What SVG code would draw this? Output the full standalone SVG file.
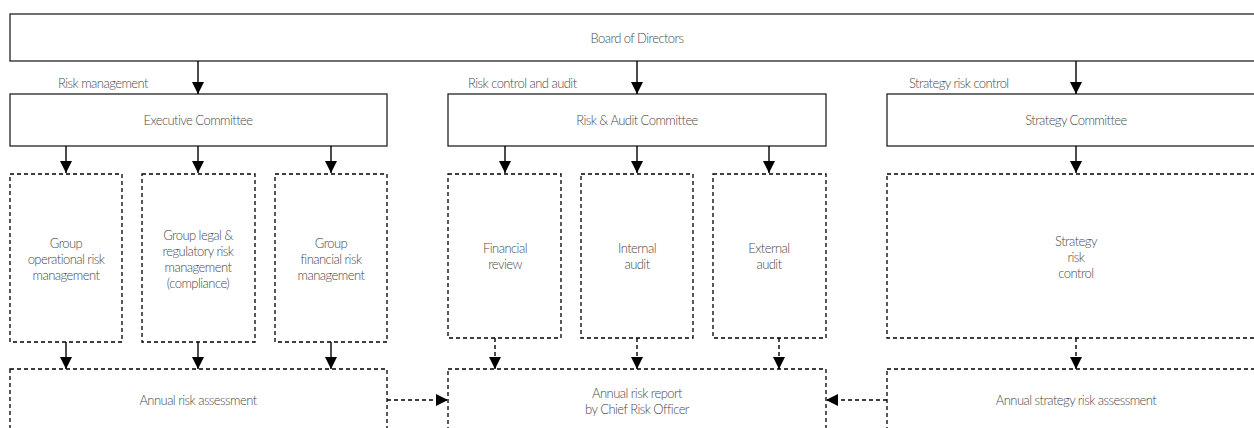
<svg xmlns="http://www.w3.org/2000/svg" width="1254" height="428" viewBox="0 0 1254 428">
<style>
text{font-family:Lato,"Open Sans","Liberation Sans",sans-serif;font-weight:300;font-size:13px;fill:#4a4a4a;letter-spacing:-0.55px}
.c{text-anchor:middle}
.solid{fill:#fff;stroke:#222;stroke-width:1.3}
.dash{fill:#fff;stroke:#000;stroke-width:1.3;stroke-dasharray:4,3}
.ln{fill:none;stroke:#000;stroke-width:1.4}
.dl{fill:none;stroke:#000;stroke-width:1.4;stroke-dasharray:4,3}
</style>
<defs>
<marker id="ah" viewBox="0 0 12 12" refX="12" refY="6" markerWidth="12" markerHeight="12" markerUnits="userSpaceOnUse" orient="auto">
<path d="M0,0 L12,6 L0,12 Z" fill="#000"/>
</marker>
</defs>
<g id="board"><rect class="solid" x="10" y="14" width="1255" height="47"/><text class="c" x="637" y="43">Board of Directors</text></g>
<g id="exec"><rect class="solid" x="10" y="94" width="377" height="52"/><text class="c" x="198" y="125">Executive Committee</text></g>
<g id="rac"><rect class="solid" x="448" y="94" width="378" height="52"/><text class="c" x="637" y="125">Risk &amp; Audit Committee</text></g>
<g id="sc"><rect class="solid" x="887" y="94" width="378" height="52"/><text class="c" x="1076" y="125">Strategy Committee</text></g>
<g id="labels">
<text x="58" y="88">Risk management</text>
<text x="468" y="88">Risk control and audit</text>
<text x="909" y="88">Strategy risk control</text>
</g>
<g id="opr"><rect class="dash" x="10" y="174" width="112" height="168"/><text class="c" x="66" y="248">Group</text><text class="c" x="66" y="264">operational risk</text><text class="c" x="66" y="280">management</text></g>
<g id="legal"><rect class="dash" x="142" y="174" width="113" height="168"/><text class="c" x="198" y="240">Group legal &amp;</text><text class="c" x="198" y="256">regulatory risk</text><text class="c" x="198" y="272">management</text><text class="c" x="198" y="288">(compliance)</text></g>
<g id="fin"><rect class="dash" x="275" y="174" width="112" height="168"/><text class="c" x="331" y="248">Group</text><text class="c" x="331" y="264">financial risk</text><text class="c" x="331" y="280">management</text></g>
<g id="frev"><rect class="dash" x="448" y="174" width="113" height="164"/><text class="c" x="505" y="253">Financial</text><text class="c" x="505" y="269">review</text></g>
<g id="iaud"><rect class="dash" x="581" y="174" width="112" height="164"/><text class="c" x="637" y="253">Internal</text><text class="c" x="637" y="269">audit</text></g>
<g id="eaud"><rect class="dash" x="713" y="174" width="113" height="164"/><text class="c" x="769" y="253">External</text><text class="c" x="769" y="269">audit</text></g>
<g id="src"><rect class="dash" x="887" y="174" width="378" height="164"/><text class="c" x="1076" y="246">Strategy</text><text class="c" x="1076" y="262">risk</text><text class="c" x="1076" y="278">control</text></g>
<g id="ara"><rect class="dash" x="10" y="369" width="377" height="80"/><text class="c" x="198" y="405">Annual risk assessment</text></g>
<g id="arr"><rect class="dash" x="448" y="369" width="378" height="80"/><text class="c" x="637" y="398">Annual risk report</text><text class="c" x="637" y="414">by Chief Risk Officer</text></g>
<g id="asra"><rect class="dash" x="887" y="369" width="378" height="80"/><text class="c" x="1076" y="405">Annual strategy risk assessment</text></g>
<g id="connectors">
<path class="ln" d="M198,61 V94" marker-end="url(#ah)"/>
<path class="ln" d="M637,61 V94" marker-end="url(#ah)"/>
<path class="ln" d="M1076,61 V94" marker-end="url(#ah)"/>
<path class="ln" d="M66,146 V173" marker-end="url(#ah)"/>
<path class="ln" d="M198,146 V173" marker-end="url(#ah)"/>
<path class="ln" d="M331,146 V173" marker-end="url(#ah)"/>
<path class="ln" d="M505,146 V173" marker-end="url(#ah)"/>
<path class="ln" d="M637,146 V173" marker-end="url(#ah)"/>
<path class="ln" d="M769,146 V173" marker-end="url(#ah)"/>
<path class="ln" d="M1076,146 V173" marker-end="url(#ah)"/>
<path class="ln" d="M66,342 V369" marker-end="url(#ah)"/>
<path class="ln" d="M198,342 V369" marker-end="url(#ah)"/>
<path class="ln" d="M331,342 V369" marker-end="url(#ah)"/>
<path class="dl" d="M495,338 V369" marker-end="url(#ah)"/>
<path class="dl" d="M637,338 V369" marker-end="url(#ah)"/>
<path class="dl" d="M779,338 V369" marker-end="url(#ah)"/>
<path class="dl" d="M1076,338 V369" marker-end="url(#ah)"/>
<path class="dl" d="M387,400 H448" marker-end="url(#ah)"/>
<path class="dl" d="M887,400 H826" marker-end="url(#ah)"/>
</g>
</svg>
